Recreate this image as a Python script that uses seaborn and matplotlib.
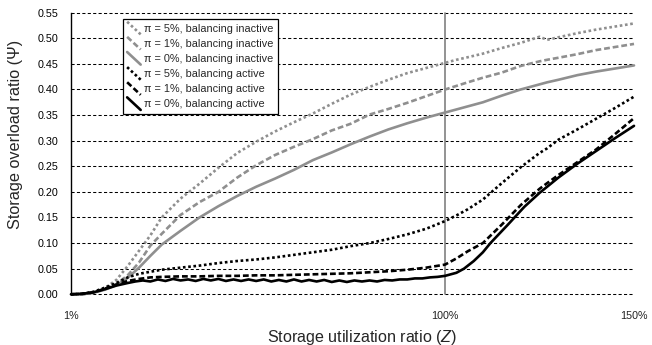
import numpy as np
import pandas as pd
import matplotlib
matplotlib.use("Agg")
import matplotlib.pyplot as plt
import seaborn as sns
from matplotlib.legend_handler import HandlerBase
from matplotlib.lines import Line2D

# ---------------- data ----------------
x_common = [1, 4, 7, 10, 13, 16, 19, 22, 25, 30, 35, 40, 45, 50, 55, 60, 65, 70, 75,
            80, 85, 90, 95, 100, 103, 106, 110, 115, 120, 125, 127, 130, 135, 140, 145, 150]

inactive_5 = [0.000, 0.000, 0.003, 0.012, 0.028, 0.055, 0.085, 0.115, 0.150, 0.187, 0.216,
              0.247, 0.276, 0.298, 0.318, 0.336, 0.353, 0.372, 0.390, 0.405, 0.419, 0.432,
              0.442, 0.452, 0.458, 0.463, 0.470, 0.481, 0.491, 0.503, 0.497, 0.502, 0.510,
              0.517, 0.523, 0.529]
inactive_1 = [0.000, 0.000, 0.003, 0.010, 0.020, 0.037, 0.062, 0.095, 0.118, 0.155, 0.180,
              0.200, 0.228, 0.252, 0.272, 0.288, 0.303, 0.320, 0.333, 0.351, 0.362, 0.374,
              0.387, 0.400, 0.407, 0.414, 0.423, 0.433, 0.446, 0.455, 0.458, 0.462, 0.469,
              0.477, 0.483, 0.489]
inactive_0 = [0.000, 0.000, 0.003, 0.009, 0.018, 0.032, 0.052, 0.075, 0.097, 0.124, 0.150,
              0.172, 0.192, 0.210, 0.226, 0.243, 0.262, 0.277, 0.293, 0.308, 0.322, 0.334,
              0.345, 0.355, 0.361, 0.367, 0.375, 0.388, 0.400, 0.410, 0.414, 0.419, 0.428,
              0.435, 0.441, 0.447]
active_5 = [0.000, 0.001, 0.005, 0.013, 0.022, 0.033, 0.040, 0.044, 0.048, 0.052, 0.056,
            0.061, 0.065, 0.068, 0.072, 0.077, 0.082, 0.087, 0.094, 0.100, 0.108, 0.117,
            0.128, 0.143, 0.154, 0.166, 0.185, 0.217, 0.248, 0.276, 0.285, 0.302, 0.322,
            0.343, 0.364, 0.386]
active_1 = [0.000, 0.001, 0.004, 0.011, 0.019, 0.026, 0.030, 0.033, 0.034, 0.035, 0.035,
            0.036, 0.036, 0.037, 0.037, 0.038, 0.039, 0.040, 0.041, 0.043, 0.045, 0.048,
            0.052, 0.058, 0.070, 0.084, 0.100, 0.136, 0.174, 0.206, 0.217, 0.233, 0.258,
            0.283, 0.313, 0.344]

x_active_0 = [1, 4, 7, 10, 13, 16, 18, 20, 22, 24, 26, 28, 30, 32, 34, 36, 38, 40, 42, 44,
              46, 48, 50, 52, 54, 56, 58, 60, 62, 64, 66, 68, 70, 72, 74, 76, 78, 80, 82,
              84, 86, 88, 90, 92, 94, 96, 98, 100, 102, 103, 105, 107.6, 110, 112, 116.5,
              121, 125, 130, 135, 140, 145, 150]
active_0 = [0.000, 0.001, 0.004, 0.010, 0.017, 0.022, 0.025, 0.027, 0.025, 0.029, 0.026,
            0.030, 0.027, 0.029, 0.026, 0.030, 0.027, 0.030, 0.026, 0.029, 0.026, 0.029,
            0.026, 0.029, 0.025, 0.028, 0.025, 0.029, 0.025, 0.028, 0.025, 0.028, 0.024,
            0.027, 0.024, 0.027, 0.025, 0.027, 0.025, 0.028, 0.027, 0.029, 0.029, 0.031,
            0.031, 0.033, 0.034, 0.036, 0.040, 0.042, 0.050, 0.065, 0.082, 0.100, 0.135,
            0.171, 0.198, 0.228, 0.255, 0.280, 0.305, 0.329]

labels = ["π = 5%, balancing inactive", "π = 1%, balancing inactive",
          "π = 0%, balancing inactive", "π = 5%, balancing active",
          "π = 1%, balancing active", "π = 0%, balancing active"]
x_ticks = [1, 100, 150]
x_tick_labels = ["1%", "100%", "150%"]
y_ticks = [0.00, 0.05, 0.10, 0.15, 0.20, 0.25, 0.30, 0.35, 0.40, 0.45, 0.50, 0.55]
x_title = "Storage utilization ratio ($Z$)"
y_title = "Storage overload ratio (Ψ)"

series_x = [x_common, x_common, x_common, x_common, x_common, x_active_0]
series_y = [inactive_5, inactive_1, inactive_0, active_5, active_1, active_0]

frames = []
for lab, xs, ys in zip(labels, series_x, series_y):
    frames.append(pd.DataFrame({"x": xs, "y": ys, "series": lab}))
df = pd.concat(frames, ignore_index=True)

# ---------------- style ----------------
sns.set_style("white")
plt.rcParams["font.family"] = ["Liberation Sans", "DejaVu Sans"]
plt.rcParams["mathtext.fontset"] = "custom"
plt.rcParams["mathtext.it"] = "Liberation Sans:italic"
plt.rcParams["mathtext.rm"] = "Liberation Sans"

GRAY = "#8f8f8f"
palette = {labels[0]: GRAY, labels[1]: GRAY, labels[2]: GRAY,
           labels[3]: "black", labels[4]: "black", labels[5]: "black"}
dashes = {labels[0]: (1, 1), labels[1]: (2.2, 1.1), labels[2]: "",
          labels[3]: (1, 1), labels[4]: (2.2, 1.1), labels[5]: ""}

fig = plt.figure(figsize=(6.52, 3.45), dpi=100)
renderer = fig.canvas.get_renderer()


def size_for(text, target_px, base=10.0):
    t = fig.text(0, 0, text, fontsize=base)
    w = t.get_window_extent(renderer).width
    t.remove()
    return base * target_px / w


fs_ylab = size_for(y_title, 190)
fs_xlab = size_for(x_title, 191)
fs_tick = size_for("0.55", 21)
fs_leg = size_for(labels[0], 128)

ax = fig.add_axes([0.1089, 0.147, 0.8635, 0.8162])

# grid
for yv in y_ticks:
    ax.axhline(yv, color="black", lw=0.75, ls=(0, (3, 2.2)), zorder=1)
ax.axvline(100, color="#808080", lw=1.2, zorder=2)

sns.lineplot(data=df, x="x", y="y", hue="series", style="series",
             palette=palette, dashes=dashes, hue_order=labels, style_order=labels,
             linewidth=1.9, legend=False, sort=False, ax=ax, zorder=3)
for ln in ax.get_lines():
    ln.set_clip_on(False)

ax.set_xlim(1, 150)
ax.set_ylim(0, 0.55)
ax.set_xticks(x_ticks)
ax.set_xticklabels(x_tick_labels)
ax.set_yticks(y_ticks)
ax.set_yticklabels([f"{v:.2f}" for v in y_ticks])
ax.tick_params(axis="x", length=0, pad=12, labelsize=fs_tick, colors="#222222")
ax.tick_params(axis="y", length=5, width=1, direction="out", pad=4, labelsize=fs_tick,
               colors="black")
for s in ["top", "right", "bottom"]:
    ax.spines[s].set_visible(False)
ax.spines["left"].set_color("black")
ax.spines["left"].set_linewidth(1.0)
ax.spines["left"].set_zorder(4)

ax.set_xlabel(x_title, fontsize=fs_xlab)
ax.xaxis.set_label_coords(0.517, -0.118)
ax.set_ylabel(y_title, fontsize=fs_ylab)
ax.yaxis.set_label_coords(-0.086, 0.567)


class DiagHandler(HandlerBase):
    def create_artists(self, legend, orig_handle, xdescent, ydescent, width, height,
                       fontsize, trans):
        x0, x1 = -xdescent, width - xdescent
        y0, y1 = -ydescent, height - ydescent
        line = Line2D([x0, x1], [y1 + 0.15 * height, y0 - 0.15 * height])
        self.update_prop(line, orig_handle, legend)
        line.set_transform(trans)
        return [line]


data_lines = [ln for ln in ax.get_lines() if len(ln.get_xdata()) > 2]
leg = ax.legend(data_lines, labels, loc="upper left", bbox_to_anchor=(0.092, 0.978),
                fontsize=fs_leg, frameon=True, fancybox=False, edgecolor="black",
                framealpha=1, handlelength=1.25, handleheight=1.0, handletextpad=0.35,
                borderpad=0.4, labelspacing=0.42, borderaxespad=0,
                handler_map={Line2D: DiagHandler()})
leg.get_frame().set_linewidth(0.9)
leg.set_zorder(5)

fig.savefig("out.png", dpi=100)
